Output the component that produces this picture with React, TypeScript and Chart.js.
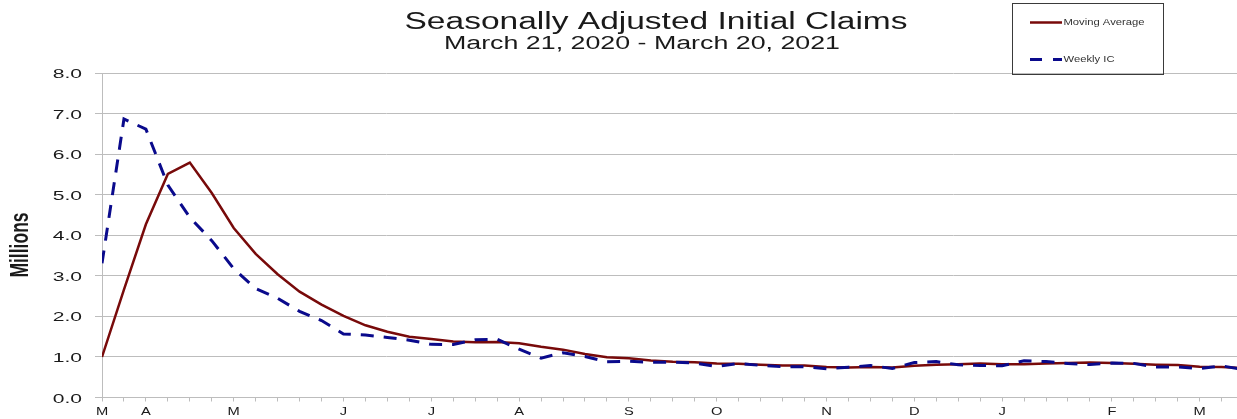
import { useEffect, useRef } from 'react';
import { Chart, registerables } from 'chart.js';

Chart.register(...registerables);

// Week-ending dates (categories)
const weekEnding = [
  '2020-03-21', '2020-03-28', '2020-04-04', '2020-04-11', '2020-04-18', '2020-04-25',
  '2020-05-02', '2020-05-09', '2020-05-16', '2020-05-23', '2020-05-30',
  '2020-06-06', '2020-06-13', '2020-06-20', '2020-06-27',
  '2020-07-04', '2020-07-11', '2020-07-18', '2020-07-25',
  '2020-08-01', '2020-08-08', '2020-08-15', '2020-08-22', '2020-08-29',
  '2020-09-05', '2020-09-12', '2020-09-19', '2020-09-26',
  '2020-10-03', '2020-10-10', '2020-10-17', '2020-10-24', '2020-10-31',
  '2020-11-07', '2020-11-14', '2020-11-21', '2020-11-28',
  '2020-12-05', '2020-12-12', '2020-12-19', '2020-12-26',
  '2021-01-02', '2021-01-09', '2021-01-16', '2021-01-23', '2021-01-30',
  '2021-02-06', '2021-02-13', '2021-02-20', '2021-02-27',
  '2021-03-06', '2021-03-13', '2021-03-20',
];

// Weekly initial claims (millions)
const weeklyIC = [
  3.307, 6.867, 6.615, 5.237, 4.442, 3.867,
  3.176, 2.687, 2.446, 2.123, 1.897,
  1.566, 1.540, 1.482, 1.413,
  1.310, 1.309, 1.422, 1.435,
  1.191, 0.971, 1.104, 1.011, 0.881,
  0.893, 0.866, 0.873, 0.849,
  0.767, 0.842, 0.791, 0.758, 0.757,
  0.711, 0.748, 0.787, 0.716,
  0.862, 0.885, 0.806, 0.790,
  0.784, 0.904, 0.886, 0.836, 0.812,
  0.848, 0.841, 0.749, 0.754,
  0.712, 0.781, 0.684,
];

// 4-week moving average (millions)
const movingAverage = [
  1.00, 2.66, 4.27, 5.51, 5.79, 5.04,
  4.18, 3.54, 3.04, 2.61, 2.29,
  2.01, 1.78, 1.62, 1.50,
  1.44, 1.38, 1.36, 1.37,
  1.34, 1.25, 1.18, 1.07, 0.99,
  0.97, 0.91, 0.88, 0.87,
  0.84, 0.83, 0.81, 0.79, 0.79,
  0.75, 0.74, 0.75, 0.74,
  0.78, 0.81, 0.82, 0.84,
  0.82, 0.82, 0.84, 0.85, 0.86,
  0.85, 0.83, 0.81, 0.80,
  0.76, 0.75, 0.73,
];

const yTickValues = [0, 1, 2, 3, 4, 5, 6, 7, 8];
const monthTickWeeks = [
  '2020-03-21', '2020-04-04', '2020-05-02', '2020-06-06', '2020-07-04', '2020-08-01',
  '2020-09-05', '2020-10-03', '2020-11-07', '2020-12-05', '2021-01-02', '2021-02-06', '2021-03-06',
];
const monthTickLabels = ['M', 'A', 'M', 'J', 'J', 'A', 'S', 'O', 'N', 'D', 'J', 'F', 'M'];
const seriesNames = ['Moving Average', 'Weekly IC'];
const titleText = 'Seasonally Adjusted Initial Claims';
const subtitleText = 'March 21, 2020 - March 20, 2021';
const yAxisTitle = 'Millions';

const FONT = '"Liberation Sans", Arial, Helvetica, sans-serif';
const MAROON = '#780a0a';
const NAVY = '#0a0a8c';
const GRID = '#bdbdbd';
const TEXT = '#1a1a1a';

type TextOpts = {
  size: number;
  weight?: string;
  align?: CanvasTextAlign;
  baseline?: CanvasTextBaseline;
  sx?: number;
  sy?: number;
  width?: number;
  rotate?: number;
  color?: string;
};

function drawText(ctx: CanvasRenderingContext2D, text: string, x: number, y: number, o: TextOpts) {
  ctx.save();
  ctx.font = `${o.weight || 'normal'} ${o.size}px ${FONT}`;
  ctx.fillStyle = o.color || TEXT;
  ctx.textAlign = o.align || 'left';
  ctx.textBaseline = o.baseline || 'alphabetic';
  let sx = o.sx ?? 1;
  if (o.width) sx = o.width / ctx.measureText(text).width;
  ctx.translate(x, y);
  if (o.rotate) ctx.rotate(o.rotate);
  ctx.scale(sx, o.sy ?? 1);
  ctx.fillText(text, 0, 0);
  ctx.restore();
}

const decorPlugin = {
  id: 'decor',
  afterDraw(chart: any) {
    const ctx: CanvasRenderingContext2D = chart.ctx;
    const xs = chart.scales.x;
    const ys = chart.scales.y;

    // Titles
    drawText(ctx, titleText, 656, 28.5, { size: 23, align: 'center', width: 503 });
    drawText(ctx, subtitleText, 642, 49, { size: 18, align: 'center', width: 396 });

    // Y tick labels
    yTickValues.forEach((v) => {
      drawText(ctx, v.toFixed(1), 82, ys.getPixelForValue(v) + 1.5, {
        size: 13, align: 'right', baseline: 'middle', sx: 1.62,
      });
    });

    // X month labels
    monthTickWeeks.forEach((w, k) => {
      const idx = weekEnding.indexOf(w);
      drawText(ctx, monthTickLabels[k], xs.getPixelForValue(idx), 412, {
        size: 10.5, align: 'center', baseline: 'middle', sx: 1.4,
      });
    });

    // Y axis title
    drawText(ctx, yAxisTitle, 21, 245, {
      size: 17.5, weight: 'bold', align: 'center', baseline: 'middle', rotate: -Math.PI / 2, sy: 1.45,
    });

    // Legend box
    ctx.save();
    ctx.strokeStyle = '#3a3a3a';
    ctx.lineWidth = 1;
    ctx.strokeRect(1012.5, 3.5, 151, 71);
    ctx.lineWidth = 2.5;
    ctx.strokeStyle = MAROON;
    ctx.beginPath();
    ctx.moveTo(1030, 22.5);
    ctx.lineTo(1062, 22.5);
    ctx.stroke();
    ctx.strokeStyle = NAVY;
    ctx.lineWidth = 3;
    ctx.setLineDash([12, 11]);
    ctx.beginPath();
    ctx.moveTo(1030, 59.5);
    ctx.lineTo(1062, 59.5);
    ctx.stroke();
    ctx.restore();
    drawText(ctx, seriesNames[0], 1063.5, 22.5, { size: 9.5, baseline: 'middle', width: 81, color: '#333' });
    drawText(ctx, seriesNames[1], 1063.5, 59.5, { size: 9.5, baseline: 'middle', width: 51, color: '#333' });
  },
};

export default function App() {
  const canvasRef = useRef<HTMLCanvasElement | null>(null);

  useEffect(() => {
    if (!canvasRef.current) return;
    const toPoints = (vals: number[]) => vals.map((v, i) => ({ x: i, y: v }));
    const chart = new Chart(canvasRef.current, {
      type: 'line',
      data: {
        datasets: [
          {
            label: seriesNames[1],
            data: toPoints(weeklyIC),
            borderColor: NAVY,
            borderWidth: 3,
            borderDash: [13, 10],
            borderCapStyle: 'butt',
            pointRadius: 0,
            tension: 0,
            fill: false,
            order: 0,
          },
          {
            label: seriesNames[0],
            data: toPoints(movingAverage),
            borderColor: MAROON,
            borderWidth: 2.5,
            pointRadius: 0,
            tension: 0,
            fill: false,
            order: 1,
          },
        ],
      },
      options: {
        responsive: true,
        maintainAspectRatio: false,
        animation: false,
        layout: { padding: { top: 73, left: 0, right: 0, bottom: 0 } },
        plugins: {
          legend: { display: false },
          title: { display: false },
          tooltip: { enabled: false },
        },
        scales: {
          x: {
            type: 'linear',
            min: 0,
            max: 51.7,
            afterBuildTicks: (s: any) => {
              s.ticks = weekEnding.map((_, i) => ({ value: i })).filter((t) => t.value <= s.max);
            },
            afterFit: (s: any) => {
              s.height = 21.5;
            },
            ticks: { display: false },
            grid: { drawOnChartArea: false, drawTicks: true, tickLength: 4, color: GRID },
            border: { display: true, color: GRID },
          },
          y: {
            min: 0,
            max: 8,
            afterBuildTicks: (s: any) => {
              s.ticks = yTickValues.map((v) => ({ value: v }));
            },
            afterFit: (s: any) => {
              s.width = 102;
            },
            ticks: { display: false },
            grid: { color: GRID, drawTicks: true, tickLength: 7 },
            border: { display: true, color: GRID },
          },
        },
      },
      plugins: [decorPlugin],
    } as any);
    return () => chart.destroy();
  }, []);

  return (
    <div style={{ position: 'absolute', left: 0, top: 0, width: 1237, height: 419, background: '#fff' }}>
      <canvas ref={canvasRef} />
    </div>
  );
}
